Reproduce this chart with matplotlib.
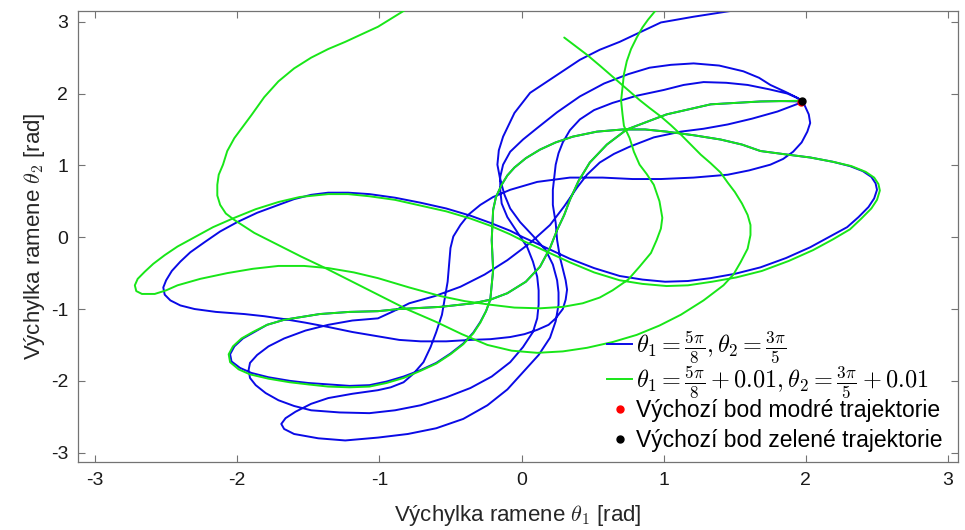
import matplotlib
matplotlib.use("Agg")
import matplotlib.pyplot as plt
from matplotlib.lines import Line2D

plt.rcParams['font.family'] = ['Liberation Sans', 'DejaVu Sans']
plt.rcParams['mathtext.fontset'] = 'cm'
plt.rcParams['axes.unicode_minus'] = False

# ---- data: (theta1, theta2) in rad ----
# blue trajectory (start 5pi/8, 3pi/5)
blue_theta1 = [
    1.96, 1.82, 1.68, 1.33, 1.02, 0.74, 0.60, 0.48, 0.40, 0.34, 0.30, 0.25, 0.20, 0.13, 0.03, -0.10, -0.22,
    -0.34, -0.57, -0.86, -1.01,
    -1.21, -1.42, -1.67, -1.79, -1.88, -1.96, -2.02, -2.05, -2.04, -1.98, -1.90, -1.78, -1.63, -1.50, -1.36,
    -1.21, -1.07, -0.95, -0.83, -0.71, -0.60, -0.50, -0.41, -0.34, -0.29, -0.25, -0.22, -0.21, -0.20, -0.205,
    -0.21, -0.205, -0.20, -0.18, -0.14, -0.10, -0.05, 0.03, 0.13, 0.24, 0.36, 0.53, 0.71, 0.87, 1.02, 1.21,
    1.40, 1.55, 1.68, 1.87, 2.03, 2.19, 2.31, 2.40, 2.46, 2.49, 2.50, 2.48, 2.44, 2.37, 2.29, 2.17, 2.03,
    1.86, 1.68, 1.50, 1.33, 1.17, 1.01, 0.85, 0.69, 0.51, 0.34, 0.22, 0.11, 0.01, -0.08, -0.22, -0.36, -0.53,
    -0.71, -0.89, -1.07, -1.22, -1.36,
    -1.48, -1.60, -1.71, -1.86, -2.00, -2.12, -2.23, -2.33, -2.40, -2.46, -2.50, -2.52, -2.51, -2.47, -2.40,
    -2.30, -2.15, -1.95, -1.81, -1.67, -1.52, -1.36, -1.19, -1.01, -0.86, -0.71, -0.53, -0.36, -0.22, -0.08,
    0.02, 0.11, 0.19, 0.24, 0.29, 0.31, 0.32, 0.31, 0.29, 0.27, 0.25, 0.24, 0.22, 0.22, 0.23, 0.24, 0.26,
    0.29, 0.34, 0.41, 0.51, 0.64, 0.81, 1.00, 1.14, 1.28, 1.44, 1.59, 1.74, 1.87, 1.96,
    1.96, 1.88, 1.80, 1.62, 1.45, 1.28, 1.12, 0.93, 0.76, 0.65, 0.55, 0.46, 0.39, 0.30, 0.20, 0.06, -0.10,
    -0.26, -0.43, -0.61, -0.79, -0.90, -1.01, -1.19, -1.36, -1.52, -1.67, -1.78, -1.86, -1.91, -1.92, -1.91,
    -1.87, -1.80, -1.71, -1.60, -1.48, -1.28, -1.07, -0.89, -0.71, -0.53, -0.36, -0.21, -0.08, 0.01, 0.08,
    0.11, 0.12, 0.12, 0.11, 0.08, 0.04, -0.03, -0.10, -0.14, -0.15, -0.15, -0.13, -0.08, 0.01, 0.11, 0.25,
    0.41, 0.58, 0.75, 0.90, 1.05, 1.21, 1.39, 1.56, 1.67, 1.75, 1.86, 1.94, 1.99, 2.02, 2.03, 2.01, 1.97,
    1.91, 1.84, 1.75, 1.60, 1.45, 1.33, 1.21, 0.98, 0.78, 0.57, 0.34, 0.11, -0.08, -0.20, -0.29, -0.37,
    -0.43, -0.48, -0.50, -0.51, -0.52, -0.54, -0.56, -0.60, -0.64, -0.69, -0.76, -0.83, -0.92, -1.01, -1.19,
    -1.36, -1.48, -1.59, -1.66, -1.69, -1.67, -1.60, -1.43, -1.24, -1.01, -0.80, -0.60, -0.41, -0.24, -0.10,
    0.01, 0.12, 0.20, 0.24, 0.26, 0.26, 0.25, 0.22, 0.17, 0.08, -0.01, -0.08, -0.12, -0.15, -0.17, -0.16,
    -0.13, -0.05, 0.06, 0.22, 0.41, 0.55, 0.69, 0.84, 0.98, 1.21, 1.47, 1.50]
blue_theta2 = [
    1.89, 1.895, 1.89, 1.85, 1.71, 1.50, 1.29, 1.04, 0.78, 0.52, 0.31, 0.10, -0.15, -0.41, -0.62, -0.78, -0.87,
    -0.92, -0.97, -1.00, -1.03,
    -1.04, -1.07, -1.15, -1.22, -1.32, -1.41, -1.52, -1.63, -1.73, -1.82, -1.89, -1.95, -2.00, -2.03, -2.05,
    -2.07, -2.06, -2.01, -1.94, -1.85, -1.75, -1.62, -1.48, -1.33, -1.18, -1.03, -0.87, -0.67, -0.46, -0.25,
    -0.04, 0.17, 0.38, 0.56, 0.73, 0.86, 0.97, 1.10, 1.22, 1.32, 1.40, 1.47, 1.50, 1.50, 1.47, 1.42,
    1.36, 1.29, 1.20, 1.15, 1.11, 1.05, 0.99, 0.92, 0.84, 0.75, 0.66, 0.54, 0.42, 0.28, 0.14, 0.01, -0.14,
    -0.29, -0.42, -0.51, -0.57, -0.61, -0.62, -0.59, -0.54, -0.43, -0.30, -0.19, -0.09, 0.00, 0.09, 0.20, 0.30,
    0.40, 0.48, 0.55, 0.60, 0.62, 0.62,
    0.59, 0.53, 0.45, 0.34, 0.21, 0.08, -0.07, -0.21, -0.34, -0.47, -0.60, -0.70, -0.80, -0.88, -0.95,
    -1.00, -1.04, -1.07, -1.10, -1.14, -1.19, -1.25, -1.32, -1.38, -1.43, -1.45, -1.45, -1.43, -1.42, -1.39,
    -1.35, -1.29, -1.22, -1.13, -1.00, -0.87, -0.73, -0.60, -0.44, -0.28, -0.04, 0.20, 0.45, 0.66, 0.84,
    1.01, 1.17, 1.32, 1.49, 1.64, 1.77, 1.87, 1.97, 2.05, 2.12, 2.16, 2.15, 2.12, 2.06, 2.00, 1.92,
    1.87, 1.81, 1.75, 1.65, 1.57, 1.51, 1.47, 1.39, 1.26, 1.16, 1.04, 0.87, 0.69, 0.43, 0.17, -0.08, -0.32,
    -0.52, -0.69, -0.82, -0.92, -1.03, -1.13, -1.16, -1.22, -1.30, -1.41, -1.52, -1.64, -1.75, -1.85, -1.96,
    -2.06, -2.17, -2.27, -2.35, -2.41, -2.44, -2.45, -2.41, -2.34, -2.23, -2.10, -1.94, -1.74, -1.53, -1.32,
    -1.13, -0.94, -0.74, -0.55, -0.34, -0.14, 0.07, 0.28, 0.47, 0.66, 0.84, 1.01, 1.19, 1.36, 1.52, 1.74,
    1.96, 2.14, 2.27, 2.36, 2.40, 2.42, 2.39, 2.31, 2.22, 2.12, 2.02, 1.94, 1.84, 1.71, 1.59, 1.47, 1.32,
    1.19, 1.09, 1.01, 0.93, 0.87, 0.85, 0.83, 0.81, 0.81, 0.83, 0.83, 0.77, 0.66, 0.56, 0.45, 0.32,
    0.17, 0.01, -0.15, -0.38, -0.62, -0.85, -1.08, -1.32, -1.53, -1.74, -1.90, -2.02, -2.09, -2.13, -2.18,
    -2.24, -2.32, -2.43, -2.52, -2.60, -2.67, -2.74, -2.80, -2.83, -2.79, -2.74, -2.66, -2.53, -2.34, -2.12,
    -1.88, -1.64, -1.40, -1.17, -0.94, -0.77, -0.60, -0.38, -0.18, 0.02, 0.21, 0.40, 0.59, 0.80, 1.01, 1.21,
    1.40, 1.73, 2.01, 2.22, 2.47, 2.61, 2.72, 2.86, 2.99, 3.07, 3.15, 3.17]

# green trajectory (start + 0.01), part up to where it leaves the top edge
green_theta1_a = [
    1.97, 1.82, 1.68, 1.33, 1.02, 0.74, 0.60, 0.48, 0.40, 0.34, 0.30, 0.25, 0.20, 0.13, 0.03, -0.10, -0.22,
    -0.34, -0.57, -0.86, -1.01,
    -1.21, -1.42, -1.67, -1.79, -1.89, -1.97, -2.03, -2.06, -2.05, -1.99, -1.91, -1.78, -1.63, -1.50, -1.36,
    -1.21, -1.07, -0.95, -0.83, -0.71, -0.60, -0.50, -0.41, -0.34, -0.29, -0.25, -0.22, -0.21, -0.20, -0.205,
    -0.21, -0.205, -0.20, -0.18, -0.14, -0.10, -0.05, 0.03, 0.13, 0.24, 0.36, 0.53, 0.71, 0.87, 1.02, 1.21,
    1.40, 1.55, 1.68, 1.87, 2.03, 2.19, 2.32, 2.42, 2.48, 2.51, 2.52, 2.50, 2.46, 2.39, 2.31, 2.19, 2.05,
    1.88, 1.69, 1.51, 1.34, 1.17, 1.02, 0.85, 0.69, 0.51, 0.34, 0.22, 0.11, 0.01, -0.08, -0.22, -0.36, -0.53,
    -0.71, -0.89, -1.07, -1.22, -1.36,
    -1.56, -1.71, -1.87, -2.02, -2.17, -2.30, -2.42, -2.51, -2.59, -2.65, -2.70, -2.72, -2.71, -2.67, -2.58,
    -2.50, -2.42, -2.26, -2.07, -1.89, -1.71, -1.53, -1.36, -1.18, -1.01, -0.79, -0.57, -0.40, -0.22, -0.05,
    0.13, 0.29, 0.43, 0.55, 0.64, 0.75, 0.83, 0.91, 0.95, 0.98, 0.99, 0.97, 0.93, 0.88, 0.83, 0.79, 0.76,
    0.72, 0.71, 0.70, 0.71, 0.72, 0.74, 0.77, 0.81, 0.85, 0.89, 0.94, 0.96]
green_theta2_a = [
    1.90, 1.895, 1.89, 1.85, 1.71, 1.50, 1.29, 1.04, 0.78, 0.52, 0.31, 0.10, -0.15, -0.41, -0.62, -0.78, -0.87,
    -0.92, -0.97, -1.00, -1.03,
    -1.04, -1.07, -1.15, -1.22, -1.32, -1.41, -1.52, -1.63, -1.74, -1.84, -1.91, -1.97, -2.02, -2.05, -2.08,
    -2.09, -2.08, -2.03, -1.96, -1.86, -1.76, -1.63, -1.49, -1.34, -1.19, -1.03, -0.87, -0.67, -0.46, -0.25,
    -0.04, 0.17, 0.38, 0.56, 0.73, 0.86, 0.97, 1.10, 1.22, 1.32, 1.40, 1.47, 1.50, 1.50, 1.47, 1.42,
    1.36, 1.29, 1.20, 1.15, 1.11, 1.05, 0.99, 0.91, 0.83, 0.74, 0.65, 0.52, 0.40, 0.26, 0.11, -0.03, -0.18,
    -0.33, -0.47, -0.56, -0.62, -0.67, -0.68, -0.65, -0.60, -0.49, -0.35, -0.24, -0.14, -0.05, 0.04, 0.16,
    0.26, 0.36, 0.44, 0.52, 0.57, 0.60, 0.60,
    0.56, 0.49, 0.39, 0.27, 0.14, 0.00, -0.13, -0.25, -0.37, -0.48, -0.58, -0.67, -0.75, -0.79, -0.79,
    -0.74, -0.67, -0.58, -0.50, -0.44, -0.40, -0.40, -0.43, -0.49, -0.57, -0.70, -0.82, -0.89, -0.94, -0.98,
    -0.99, -0.97, -0.92, -0.84, -0.74, -0.59, -0.41, -0.22, -0.04, 0.12, 0.27, 0.50, 0.73, 0.88, 1.01, 1.19,
    1.38, 1.55, 1.71, 1.90, 2.08, 2.27, 2.45, 2.62, 2.78, 2.92, 3.03, 3.15, 3.18]

# green trajectory, part after it comes back in through the top edge
green_theta1_b = [
    -0.80, -0.83, -0.92, -1.01, -1.12, -1.24, -1.36, -1.48, -1.60, -1.71, -1.81, -1.90, -1.96, -2.02, -2.07,
    -2.10, -2.13, -2.14, -2.14, -2.12, -2.08, -2.02, -1.95, -1.88, -1.71, -1.55, -1.38, -1.20, -1.01, -0.81,
    -0.60, -0.42, -0.24, -0.07, 0.11, 0.29, 0.46, 0.64, 0.81, 0.97, 1.12, 1.28, 1.42, 1.49, 1.54, 1.59, 1.61,
    1.61, 1.59, 1.55, 1.50, 1.45, 1.40, 1.33, 1.26, 1.19, 1.12, 1.05, 0.98, 0.90, 0.83, 0.76, 0.69, 0.62,
    0.55, 0.46, 0.30]
green_theta2_b = [
    3.19, 3.15, 3.04, 2.93, 2.83, 2.72, 2.62, 2.50, 2.35, 2.17, 1.95, 1.70, 1.54, 1.38, 1.20,
    1.01, 0.87, 0.73, 0.58, 0.45, 0.33, 0.24, 0.15, 0.06, -0.11, -0.27, -0.43, -0.61, -0.80, -1.00,
    -1.18, -1.35, -1.50, -1.58, -1.61, -1.59, -1.54, -1.46, -1.36, -1.23, -1.08, -0.88, -0.67, -0.52, -0.35,
    -0.16, 0.03, 0.17, 0.31, 0.47, 0.63, 0.76, 0.90, 1.03, 1.15, 1.29, 1.43, 1.56, 1.68, 1.80, 1.91, 2.03,
    2.15, 2.27, 2.39, 2.54, 2.78]

blue_start = (1.9635, 1.885)     # 5*pi/8, 3*pi/5
green_start = (1.9735, 1.895)    # + 0.01

line_labels = [r"$\theta_1 = \frac{5\pi}{8}, \theta_2 = \frac{3\pi}{5}$",
               r"$\theta_1 = \frac{5\pi}{8} + 0.01, \theta_2 = \frac{3\pi}{5} + 0.01$"]
point_labels = ["Výchozí bod modré trajektorie",
                "Výchozí bod zelené trajektorie"]

BLUE = '#0a0ae6'
GREEN = '#18e618'

fig = plt.figure(figsize=(9.65, 5.30), dpi=100)
ax = fig.add_axes([0.0808, 0.1283, 0.912, 0.851])

kw = dict(lw=1.4, solid_joinstyle='round', solid_capstyle='round')
ax.plot(blue_theta1, blue_theta2, color=BLUE, zorder=2, **kw)
ax.plot(green_theta1_a, green_theta2_a, color=GREEN, zorder=3, **kw)
ax.plot(green_theta1_b, green_theta2_b, color=GREEN, zorder=3, **kw)
ax.plot([blue_start[0]], [blue_start[1]], 'o', color='red', ms=5, zorder=4)
ax.plot([green_start[0]], [green_start[1]], 'o', color='black', ms=5, zorder=5)

ax.set_xlim(-3.12, 3.07)
ax.set_ylim(-3.13, 3.15)
ax.set_xticks([-3, -2, -1, 0, 1, 2, 3])
ax.set_yticks([-3, -2, -1, 0, 1, 2, 3])
ax.tick_params(direction='in', length=5, width=0.8, top=True, right=True,
               labelsize=14, colors='0.45', labelcolor='0.1', pad=7)
for s in ax.spines.values():
    s.set_color('0.45')
    s.set_linewidth(0.9)

ax.set_xlabel(r"Výchylka ramene $\theta_1$ [rad]", fontsize=16, color='0.15', labelpad=10)
ax.set_ylabel(r"Výchylka ramene $\theta_2$ [rad]", fontsize=16, color='0.15', labelpad=3)

common = dict(frameon=False, fontsize=16.5, handlelength=1.1, handletextpad=0.15,
              borderpad=0.0, borderaxespad=0.0)
line_handles = [Line2D([], [], color=BLUE, lw=1.4),
                Line2D([], [], color=GREEN, lw=1.4)]
leg1 = ax.legend(line_handles, line_labels, loc='center left', bbox_to_anchor=(0.601, 0.216),
                 labelspacing=-0.05, **common)
for t in leg1.get_texts():
    t.set_fontsize(17.5)
ax.add_artist(leg1)

point_handles = [Line2D([], [], color='red', marker='o', ls='none', ms=5),
                 Line2D([], [], color='black', marker='o', ls='none', ms=5)]
leg2 = ax.legend(point_handles, point_labels, loc='center left', bbox_to_anchor=(0.601, 0.080),
                 labelspacing=0.3, **common)

fig.savefig("out.png", dpi=100)
